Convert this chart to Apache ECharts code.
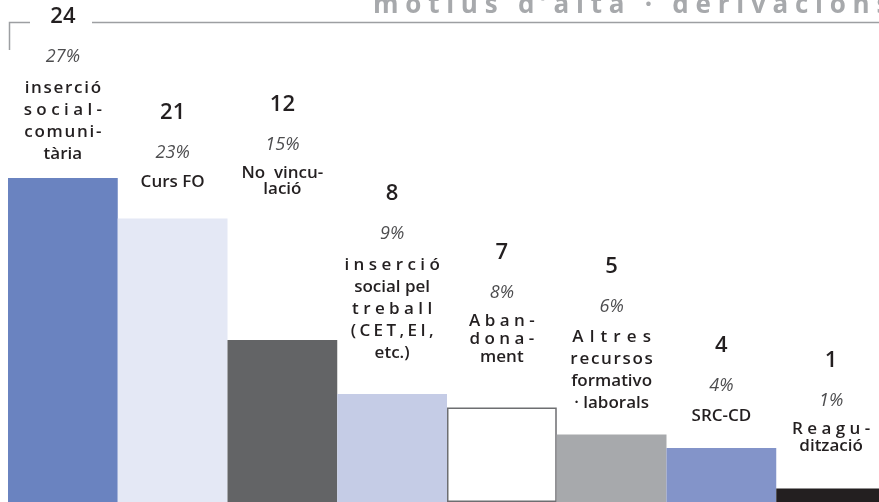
<!DOCTYPE html>
<html>
<head>
<meta charset="utf-8">
<script src="https://cdn.jsdelivr.net/npm/echarts@6/dist/echarts.min.js"></script>
<style>
  html, body { margin: 0; padding: 0; background: #fff; }
  #chart { width: 879px; height: 502px; }
</style>
</head>
<body>
<div id="chart"></div>
<script>
// dades
const categories = [
  'inserció social-comunitària',
  'Curs FO',
  'No vinculació',
  'inserció social pel treball (CET,EI, etc.)',
  'Abandonament',
  'Altres recursos formativo · laborals',
  'SRC-CD',
  'Reagudització'
];
const counts = [24, 21, 12, 8, 7, 5, 4, 1];
const percents = [27, 23, 15, 9, 8, 6, 4, 1];

// com es parteix cada rètol (igual que al gràfic original)
const HAIR = '\u200a';
const sp = (word, gap) => word.split('').join(gap);
const labelLines = [
  [sp('inserció', HAIR), sp('social-', ' '), sp('comuni-', HAIR), 'tària'],
  ['Curs FO'],
  ['No  vincu-', 'lació'],
  [sp('inserció', ' '), 'social pel', sp('treball', ' '), sp('(CET,EI,', HAIR + HAIR), 'etc.)'],
  [sp('Aban-', ' '), sp('dona-', ' '), 'ment'],
  [sp('Altres', ' ' + HAIR), sp('recursos', HAIR), 'formativo', '· laborals'],
  ['SRC-CD'],
  [sp('Reagu-', ' '), 'dització']
];

// estil
const barColors = ['#6a83c0', '#e4e8f5', '#636466', '#c5cce6', '#ffffff', '#a7a9ac', '#8394c9', '#231f20'];
const lineHeights = [22, 20, 16, 22, 18, 22, 20, 17];
const labelGaps = [13, 26, 143, 30, 41, 20, 22, 34];
const FONT = '"Open Sans", "Noto Sans", sans-serif';

const rich = {
  num: { fontFamily: FONT, fontSize: 22, fontWeight: 600, color: '#231f20', lineHeight: 40 },
  pct: { fontFamily: FONT, fontSize: 18, fontStyle: 'italic', fontWeight: 400, color: '#4d4d4f', lineHeight: 40 }
};
[16, 17, 18, 20, 22].forEach(h => {
  rich['n' + h] = { fontFamily: FONT, fontSize: 17, fontWeight: 600, color: '#231f20', lineHeight: h };
});

const barData = counts.map((v, i) => {
  const item = {
    value: v,
    itemStyle: { color: barColors[i] },
    label: { distance: labelGaps[i] }
  };
  if (i === 4) {
    item.itemStyle.borderColor = '#6d6e71';
    item.itemStyle.borderWidth = 1.5;
  }
  return item;
});

const chart = echarts.init(document.getElementById('chart'));

chart.setOption({
  animation: false,
  grid: { left: 8, right: -7, top: 178, bottom: 0, outerBoundsMode: 'none', containLabel: false },
  xAxis: { type: 'category', data: categories, show: false },
  yAxis: { type: 'value', min: 0, max: 24, show: false },
  graphic: [
    {
      type: 'text',
      x: 373,
      y: 19,
      style: {
        text: ['motius', 'd’alta', '·', 'derivacions'].map(w => sp(w, ' ')).join('   '),
        fontFamily: FONT,
        fontSize: 26,
        fontWeight: 'bold',
        fill: '#a7a9ac',
        align: 'left',
        verticalAlign: 'bottom'
      }
    },
    {
      type: 'polyline',
      shape: { points: [[30, 22.5], [9.5, 22.5], [9.5, 50]] },
      style: { stroke: '#9d9fa2', lineWidth: 1.5, fill: null }
    },
    {
      type: 'line',
      shape: { x1: 92, y1: 22.5, x2: 879, y2: 22.5 },
      style: { stroke: '#9d9fa2', lineWidth: 1.5 }
    }
  ],
  series: [{
    type: 'bar',
    data: barData,
    barCategoryGap: '0%',
    label: {
      show: true,
      position: 'top',
      formatter: p => {
        const i = p.dataIndex;
        const key = 'n' + lineHeights[i];
        return ['{num|' + counts[i] + '}', '{pct|' + percents[i] + '%}']
          .concat(labelLines[i].map(t => '{' + key + '|' + t + '}'))
          .join('\n');
      },
      rich: rich
    }
  }]
});
</script>
</body>
</html>
